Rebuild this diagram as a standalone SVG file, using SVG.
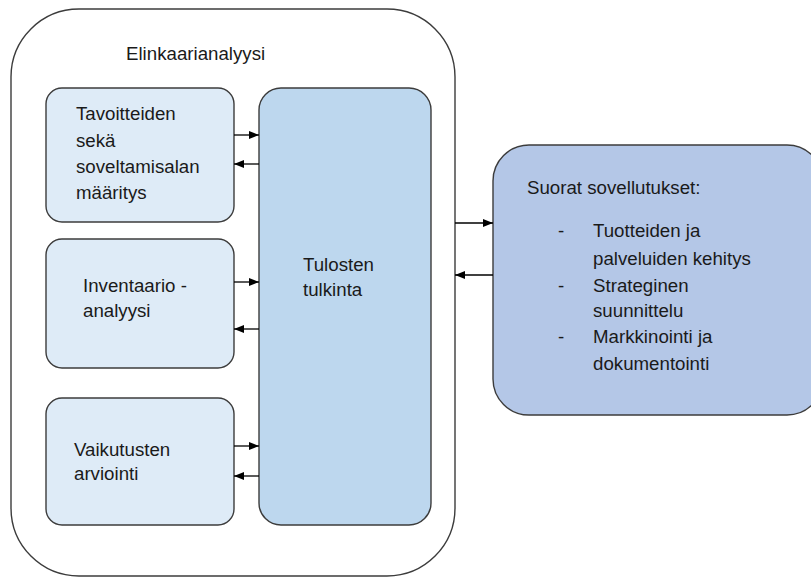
<svg xmlns="http://www.w3.org/2000/svg" width="811" height="577" viewBox="0 0 811 577">
<style>
.box{stroke:#3c3c3c;stroke-width:1.4}
.sub{fill:#deebf7}
.t{font-family:"Liberation Sans",Arial,sans-serif;font-size:18.7px;fill:#1a1a1a}
.c{stroke:#000;stroke-width:1.3;fill:none}
</style>
<defs>
<marker id="ah" viewBox="0 0 10 10" refX="10" refY="5" markerWidth="10" markerHeight="8" markerUnits="userSpaceOnUse" orient="auto" preserveAspectRatio="none">
<path d="M0,0 L10,5 L0,10 Z" fill="#000"/>
</marker>
</defs>
<rect width="811" height="577" fill="#fff"/>
<g id="lca">
<rect class="box" x="11" y="9" width="444" height="567" rx="68" ry="68" fill="#fff"/>
<text class="t" x="126" y="60">Elinkaarianalyysi</text>
</g>
<g id="goal">
<rect class="box sub" x="46" y="88" width="188" height="134" rx="16" ry="16"/>
<text class="t" x="76" y="120">Tavoitteiden</text>
<text class="t" x="76" y="147">sekä</text>
<text class="t" x="76" y="173">soveltamisalan</text>
<text class="t" x="76" y="199">määritys</text>
</g>
<g id="inventory">
<rect class="box sub" x="46" y="239" width="188" height="129" rx="16" ry="16"/>
<text class="t" x="83" y="292">Inventaario -</text>
<text class="t" x="83" y="317">analyysi</text>
</g>
<g id="impact">
<rect class="box sub" x="46" y="398" width="188" height="127" rx="16" ry="16"/>
<text class="t" x="74" y="456">Vaikutusten</text>
<text class="t" x="74" y="480">arviointi</text>
</g>
<g id="interpretation">
<rect class="box" x="259" y="88" width="172" height="437" rx="22" ry="22" fill="#bdd7ee"/>
<text class="t" x="303" y="271">Tulosten</text>
<text class="t" x="303" y="296">tulkinta</text>
</g>
<g id="applications">
<rect class="box" x="493" y="145" width="330" height="270" rx="36" ry="36" fill="#b4c7e7"/>
<text class="t" x="527" y="194">Suorat sovellutukset:</text>
<text class="t" x="558" y="237">-</text>
<text class="t" x="593" y="237">Tuotteiden ja</text>
<text class="t" x="593" y="265">palveluiden kehitys</text>
<text class="t" x="558" y="292">-</text>
<text class="t" x="593" y="292">Strateginen</text>
<text class="t" x="593" y="317">suunnittelu</text>
<text class="t" x="558" y="343">-</text>
<text class="t" x="593" y="343">Markkinointi ja</text>
<text class="t" x="593" y="370">dokumentointi</text>
</g>
<g id="connectors">
<line class="c" x1="234" y1="135" x2="259" y2="135" marker-end="url(#ah)"/>
<line class="c" x1="259" y1="164" x2="234" y2="164" marker-end="url(#ah)"/>
<line class="c" x1="234" y1="282" x2="259" y2="282" marker-end="url(#ah)"/>
<line class="c" x1="259" y1="329" x2="234" y2="329" marker-end="url(#ah)"/>
<line class="c" x1="234" y1="446" x2="259" y2="446" marker-end="url(#ah)"/>
<line class="c" x1="259" y1="476" x2="234" y2="476" marker-end="url(#ah)"/>
<line class="c" x1="455" y1="223" x2="493" y2="223" marker-end="url(#ah)"/>
<line class="c" x1="493" y1="275" x2="455" y2="275" marker-end="url(#ah)"/>
</g>
</svg>
